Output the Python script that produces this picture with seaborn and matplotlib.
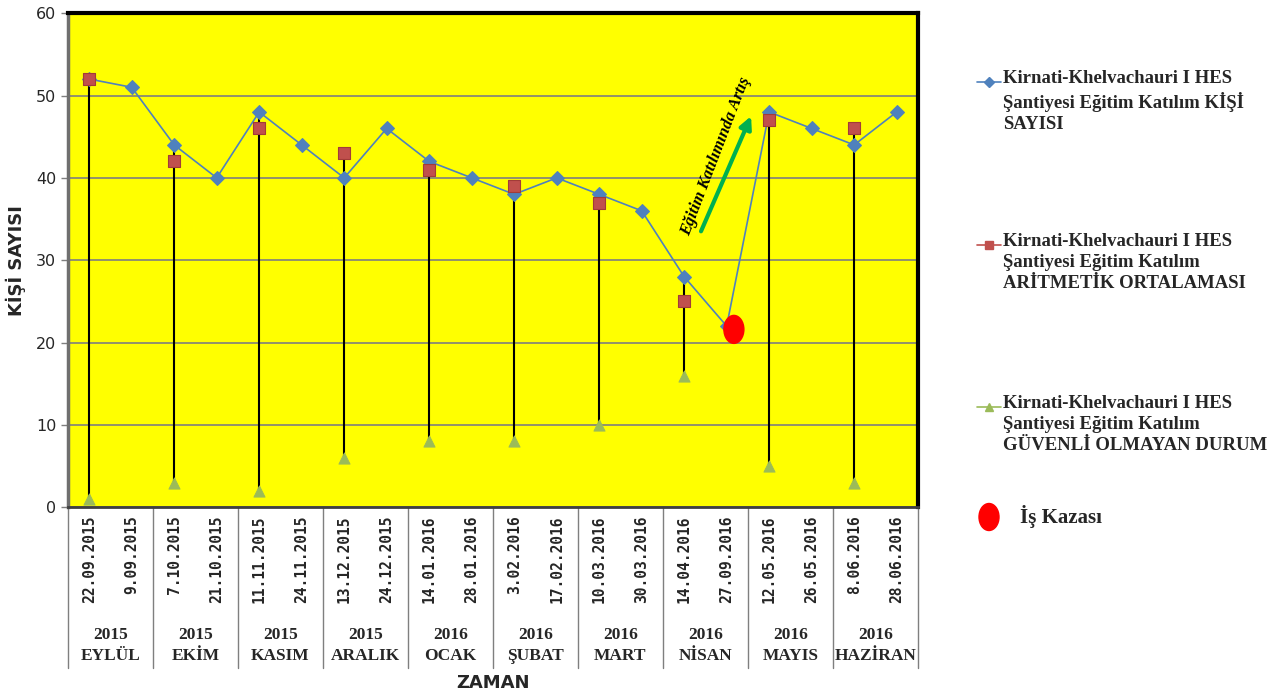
import numpy as np
import pandas as pd
import matplotlib
matplotlib.use("Agg")
import matplotlib.pyplot as plt
from matplotlib.lines import Line2D
from matplotlib.patches import Ellipse
import seaborn as sns

# Veriler
tarihler = ["22.09.2015", "9.09.2015", "7.10.2015", "21.10.2015", "11.11.2015",
            "24.11.2015", "13.12.2015", "24.12.2015", "14.01.2016", "28.01.2016",
            "3.02.2016", "17.02.2016", "10.03.2016", "30.03.2016", "14.04.2016",
            "27.09.2016", "12.05.2016", "26.05.2016", "8.06.2016", "28.06.2016"]
aylar = ["2015\nEYLÜL", "2015\nEKİM", "2015\nKASIM", "2015\nARALIK", "2016\nOCAK",
         "2016\nŞUBAT", "2016\nMART", "2016\nNİSAN", "2016\nMAYIS", "2016\nHAZİRAN"]
kisi_sayisi = [52, 51, 44, 40, 48, 44, 40, 46, 42, 40,
               38, 40, 38, 36, 28, 22, 48, 46, 44, 48]
# ayin ilk egitimi icin degerler
ortalama = [52, 42, 46, 43, 41, 39, 37, 25, 47, 46]
guvensiz = [1, 3, 2, 6, 8, 8, 10, 16, 5, 3]
kaza_idx = 15
kaza_deger = 21.6

etiket_kisi = "Kirnati-Khelvachauri I HES\nŞantiyesi Eğitim Katılım KİŞİ\nSAYISI"
etiket_ort = "Kirnati-Khelvachauri I HES\nŞantiyesi Eğitim Katılım\nARİTMETİK ORTALAMASI"
etiket_guv = "Kirnati-Khelvachauri I HES\nŞantiyesi Eğitim Katılım\nGÜVENLİ OLMAYAN DURUM"

MAVI = "#4F81BD"
KIRMIZI = "#C0504D"
YESIL = "#9BBB59"

sns.set_style("white")
plt.rcParams['font.family'] = ['DejaVu Sans']
serif = ['Liberation Serif', 'DejaVu Serif']

df = pd.DataFrame({"idx": np.arange(len(tarihler)), "tarih": tarihler, "kisi": kisi_sayisi})
ay_idx = np.arange(0, len(tarihler), 2)
df_ay = pd.DataFrame({"idx": ay_idx, "ortalama": ortalama, "guvensiz": guvensiz})

fig, ax = plt.subplots(figsize=(12.82, 6.93), dpi=100)
fig.subplots_adjust(left=0.053, right=0.716, bottom=0.268, top=0.981)
ax.set_facecolor("#FFFF00")

# high-low cizgileri
ust = np.maximum(df_ay["ortalama"].values, df["kisi"].values[ay_idx])
ax.vlines(df_ay["idx"], df_ay["guvensiz"], ust, color="black", lw=1.5, zorder=2)

sns.lineplot(data=df, x="idx", y="kisi", color=MAVI, lw=1.2, marker="D", markersize=7,
             markeredgecolor=MAVI, ax=ax, zorder=3)
sns.scatterplot(data=df_ay, x="idx", y="ortalama", marker="s", s=70, color=KIRMIZI,
                edgecolor="#A23B38", linewidth=0.8, ax=ax, zorder=4)
sns.scatterplot(data=df_ay, x="idx", y="guvensiz", marker="^", s=65, color=YESIL,
                edgecolor=YESIL, ax=ax, zorder=4)

# is kazasi
ax.add_patch(Ellipse((kaza_idx + 0.17, kaza_deger), width=0.47, height=3.4,
                     color="#FF0000", zorder=5))

# egitim katilimi artis oku
ax.annotate("", xy=(15.6, 47.8), xytext=(14.37, 33.2),
            arrowprops=dict(arrowstyle="-|>", color="#00B050", lw=3, mutation_scale=18))
ax.text(14.75, 42.6, "Eğitim Katılımında Artış", rotation=69, rotation_mode="anchor",
        ha="center", va="center", fontsize=12, fontweight="bold", fontstyle="italic",
        family=serif, color="black")

ax.set_xlim(-0.5, len(tarihler) - 0.5)
ax.set_ylim(0, 60)
ax.set_yticks(np.arange(0, 61, 10))
ax.yaxis.grid(True, color="#7F7F7F", lw=1.2)
ax.xaxis.grid(False)
ax.set_axisbelow(True)

ax.set_xticks(df["idx"])
ax.set_xticklabels(tarihler, rotation=90, fontfamily="DejaVu Sans Mono",
                   fontweight="bold", fontsize=10.5)
ax.tick_params(axis="x", length=0, pad=6)
ax.tick_params(axis="y", length=5, width=1, color="#7F7F7F", labelsize=11.5,
               labelcolor="#262626", left=True)

for s in ["top", "right"]:
    ax.spines[s].set_color("black")
    ax.spines[s].set_linewidth(3)
ax.spines["left"].set_color("#6F6F6F")
ax.spines["left"].set_linewidth(2.5)
ax.spines["bottom"].set_color("#404040")
ax.spines["bottom"].set_linewidth(2)

# ay ayiricilari ve etiketleri
trans = ax.get_xaxis_transform()
for b in np.arange(-0.5, len(tarihler), 2):
    ax.plot([b, b], [0, -0.326], transform=trans, color="#7F7F7F", lw=1, clip_on=False)
for i, ay in enumerate(aylar):
    ax.text(2 * i + 0.5, -0.279, ay, transform=trans, ha="center", va="center",
            fontsize=12.5, fontweight="bold", family=serif, linespacing=1.4)

ax.set_xlabel("ZAMAN", fontsize=13, fontweight="bold")
ax.xaxis.set_label_coords(0.5, -0.338)
ax.set_ylabel("KİŞİ SAYISI", fontsize=13, fontweight="bold")
ax.yaxis.set_label_coords(-0.049, 0.5)

# lejant
W, H = 1282, 693
def lejant(y_px, renk, marker, ms, metin):
    fig.add_artist(Line2D([977 / W, 1001 / W], [1 - y_px / H] * 2, color=renk, lw=1.2))
    fig.add_artist(Line2D([989 / W], [1 - y_px / H], color=renk, marker=marker,
                          markersize=ms, lw=0))
    fig.text(1003 / W, 1 - (y_px - 12) / H, metin, ha="left", va="top", fontsize=13.5,
             fontweight="bold", family=serif, linespacing=1.3)

lejant(82, MAVI, "D", 5, etiket_kisi)
lejant(245, KIRMIZI, "s", 6, etiket_ort)
lejant(407, YESIL, "^", 6, etiket_guv)
fig.add_artist(Ellipse((989 / W, 1 - 517 / H), width=20 / W, height=27 / H, color="#FF0000"))
fig.text(1020 / W, 1 - 517 / H, "İş Kazası", ha="left", va="center", fontsize=15,
         fontweight="bold", family=serif)

fig.savefig("out.png", dpi=100)
